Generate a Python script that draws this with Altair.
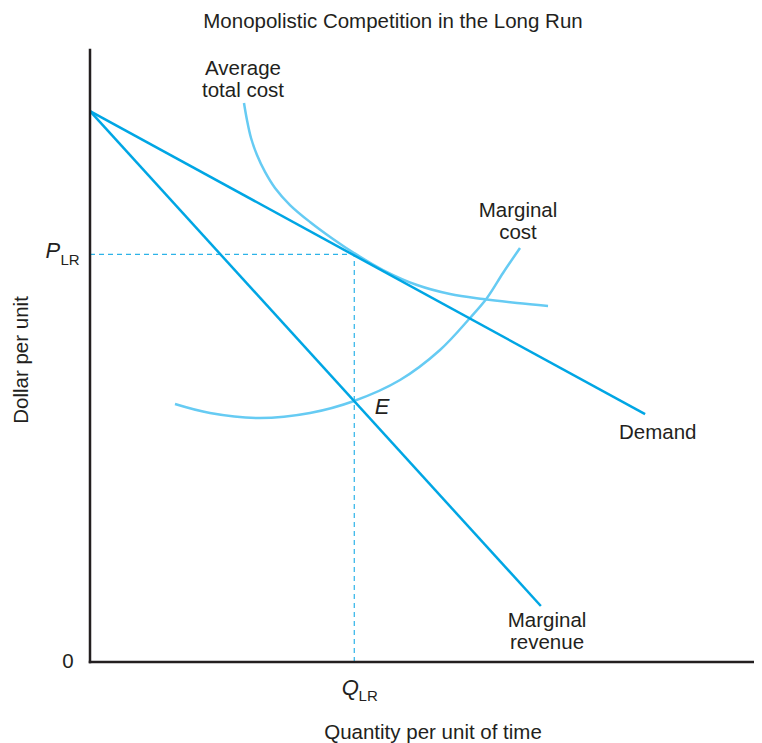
import altair as alt
import pandas as pd

# ---- data (quantity units 0-100 on x, dollars 0-100 on y) ----
demand_q = [0.0, 83.6]
demand_p = [90.0, 40.5]
mr_q = [0.0, 67.9]
mr_p = [90.0, 9.15]

atc_q = [23.19, 23.64, 24.25, 25.15, 26.36, 27.86, 30.12, 33.13, 36.60, 39.76,
         44.13, 49.25, 54.22, 59.19, 64.31, 68.98]
atc_p = [91.34, 88.56, 85.62, 82.84, 80.07, 77.45, 74.67, 71.90, 69.12, 66.83,
         64.05, 61.60, 60.13, 59.31, 58.66, 58.17]

mc_q = [12.80, 18.07, 25.60, 33.13, 39.76, 46.69, 52.71, 57.23, 59.79, 62.20, 64.76]
mc_p = [42.16, 40.69, 39.87, 40.69, 42.65, 46.08, 50.98, 56.21, 59.48, 63.56, 67.65]

q_lr = 39.8
p_lr = 66.6
axis_max = [100.0]

# labels
curve_label_text = ["Average", "total cost", "Marginal", "cost", "Marginal", "revenue"]
curve_label_x = [23.04, 23.04, 64.46, 64.46, 68.83, 68.83]
curve_label_y = [96.9, 93.3, 73.7, 70.1, 6.7, 3.1]

DARK = "#00a6e4"
LIGHT = "#66cbf3"
DASH = "#2cb3e8"
TXT = "#231f20"
FONT = "Liberation Sans"
FS = 20.5

xs = alt.Scale(domain=[0, 100], nice=False, zero=False)
ys = alt.Scale(domain=[0, 100], nice=False, zero=False)


def line_layer(q, p, color, interp="linear"):
    df = pd.DataFrame({"q": q, "p": p})
    return alt.Chart(df).mark_line(
        interpolate=interp, strokeWidth=2.5, color=color, strokeCap="butt"
    ).encode(
        x=alt.X("q:Q", scale=xs, axis=None),
        y=alt.Y("p:Q", scale=ys, axis=None),
    )


demand = line_layer(demand_q, demand_p, DARK)
mr = line_layer(mr_q, mr_p, DARK)
atc = line_layer(atc_q, atc_p, LIGHT, "catmull-rom")
mc = line_layer(mc_q, mc_p, LIGHT, "catmull-rom")

eq = pd.DataFrame({"q": [q_lr], "p": [p_lr], "zero": [0.0]})
dash_h = alt.Chart(eq).mark_rule(color=DASH, strokeWidth=1.2, strokeDash=[5, 4]).encode(
    x=alt.X("zero:Q", scale=xs, axis=None), x2="q:Q", y=alt.Y("p:Q", scale=ys, axis=None)
)
dash_v = alt.Chart(eq).mark_rule(color=DASH, strokeWidth=1.2, strokeDash=[5, 4]).encode(
    x=alt.X("q:Q", scale=xs, axis=None), y=alt.Y("zero:Q", scale=ys, axis=None), y2="p:Q"
)

ax = pd.DataFrame({"zero": [0.0], "top": axis_max})
x_axis = alt.Chart(ax).mark_rule(color="#231f20", strokeWidth=2.5, strokeCap="square").encode(
    x=alt.X("zero:Q", scale=xs, axis=None), x2="top:Q", y=alt.Y("zero:Q", scale=ys, axis=None)
)
y_axis = alt.Chart(ax).mark_rule(color="#231f20", strokeWidth=2.5, strokeCap="square").encode(
    x=alt.X("zero:Q", scale=xs, axis=None), y=alt.Y("zero:Q", scale=ys, axis=None), y2="top:Q"
)


def text_layer(texts, x, y, size=FS, style="normal", align="center", angle=0, baseline="middle"):
    df = pd.DataFrame({"t": texts, "x": x, "y": y})
    return alt.Chart(df).mark_text(
        font=FONT, fontSize=size, fontStyle=style, align=align, baseline=baseline,
        angle=angle, color=TXT
    ).encode(
        x=alt.X("x:Q", scale=xs, axis=None),
        y=alt.Y("y:Q", scale=ys, axis=None),
        text="t:N",
    )


curve_labels = text_layer(curve_label_text, curve_label_x, curve_label_y)
demand_label = text_layer(["Demand"], [79.67], [37.42], align="left")
e_label = text_layer(["E"], [43.98], [41.67], size=22, style="italic")
zero_label = text_layer(["0"], [-3.31], [0.0])
title = text_layer(["Monopolistic Competition in the Long Run"], [45.63], [104.58])
x_title = text_layer(["Quantity per unit of time"], [51.66], [-11.6])
y_title = text_layer(["Dollar per unit"], [-10.24], [49.35], angle=270)
p_main = text_layer(["P"], [-5.6], [67.16], size=22, style="italic")
p_sub = text_layer(["LR"], [-3.0], [65.7], size=15)
q_main = text_layer(["Q"], [39.2], [-4.25], size=22, style="italic")
q_sub = text_layer(["LR"], [41.9], [-5.6], size=15)

chart = alt.layer(
    dash_h, dash_v, atc, mc, demand, mr, x_axis, y_axis,
    curve_labels, demand_label, e_label, zero_label, title, x_title, y_title,
    p_main, p_sub, q_main, q_sub,
).properties(
    width=664, height=612,
    padding={"left": 82, "top": 42, "right": 0, "bottom": 81},
    autosize=alt.AutoSizeParams(type="none"),
).configure_view(stroke=None)

chart.save("out.html", embed_options={"renderer": "svg", "actions": False})
